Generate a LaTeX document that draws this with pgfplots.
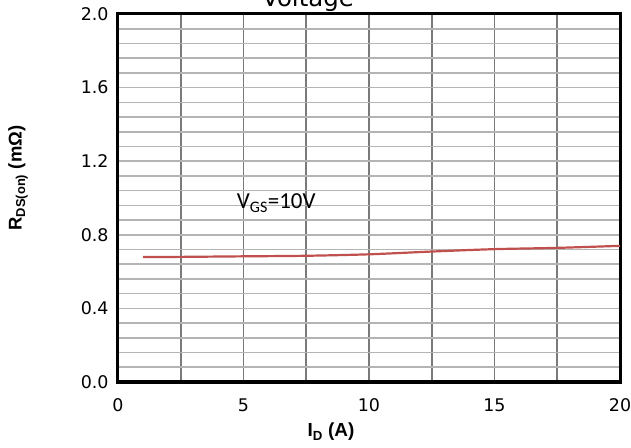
\documentclass[border=0pt]{standalone}
\usepackage{fontspec}
\setmainfont{DejaVu Sans}
\newfontfamily\calibri{Carlito}
\newfontfamily\arialfont{Liberation Sans}
\usepackage{pgfplots}
\pgfplotsset{compat=1.18}
\definecolor{gridv}{HTML}{7A7A7A}
\definecolor{gridh}{HTML}{B4B4B4}
\definecolor{curve}{HTML}{C0504D}
\begin{document}
\begin{tikzpicture}
\begin{axis}[
  scale only axis,
  width=502bp, height=368bp,
  xmin=0, xmax=20, ymin=0, ymax=2,
  xtick={0,2.5,5,7.5,10,12.5,15,17.5,20},
  xticklabels={0,,5,,10,,15,,20},
  ytick={0,0.08,0.16,0.24,0.32,0.4,0.48,0.56,0.64,0.72,0.8,0.88,0.96,1.04,1.12,1.2,1.28,1.36,1.44,1.52,1.6,1.68,1.76,1.84,1.92,2.0},
  yticklabels={0.0,,,,,0.4,,,,,0.8,,,,,1.2,,,,,1.6,,,,,2.0},
  xmajorgrids, ymajorgrids,
  x grid style={draw=gridv, line width=1.6bp},
  y grid style={draw=gridh, line width=1.6bp},
  tick style={draw=none},
  axis line style={line width=3bp, black},
  ticklabel style={font=\fontsize{17.5}{20}\selectfont},
  xticklabel style={yshift=-13bp},
  yticklabel style={xshift=-6bp},
  clip=false,
]
\addplot[curve, line width=2.2bp, smooth] coordinates {
  (1,0.679) (2.5,0.680) (5,0.683) (7.5,0.686) (10,0.694)
  (12.5,0.709) (15,0.722) (17.5,0.729) (20,0.740)
};
\node[anchor=base west, inner sep=0pt, font=\calibri\fontsize{23}{26}\selectfont]
  at (axis cs:4.73,0.944) {V\textsubscript{GS}=10V};
\node[anchor=base, inner sep=0pt, font=\fontsize{24.5}{28}\selectfont]
  at (axis cs:7.57,2.0) [yshift=7bp] {Voltage};
\coordinate (sw) at (rel axis cs:0,0);
\coordinate (ne) at (rel axis cs:1,1);
\end{axis}
\node[rotate=90, inner sep=0pt, font=\arialfont\bfseries\fontsize{18.5}{22}\selectfont]
  at ([xshift=-100bp,yshift=204bp]sw) {R\textsubscript{DS(on)} (mΩ)};
\node[inner sep=0pt, font=\arialfont\bfseries\fontsize{19}{22}\selectfont]
  at ([xshift=213bp,yshift=-50bp]sw) {I\textsubscript{D} (A)};
\pgfresetboundingbox
\path ([xshift=-118bp,yshift=-66bp]sw) rectangle ([xshift=11bp,yshift=14bp]ne);
\end{tikzpicture}
\end{document}
